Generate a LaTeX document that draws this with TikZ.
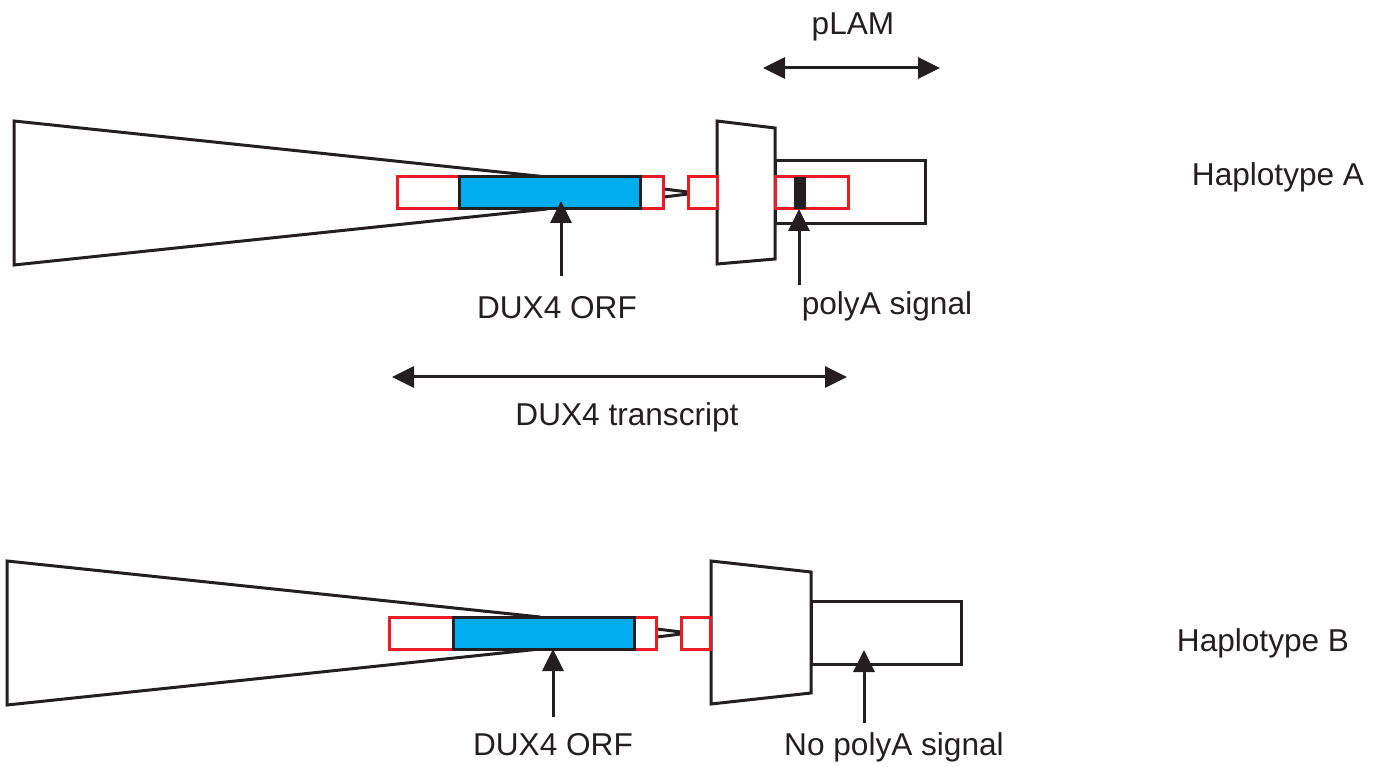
\documentclass[tikz,border=0pt]{standalone}
\usepackage{fontspec}
\setmainfont{Liberation Sans}
\usetikzlibrary{arrows.meta,positioning}
\definecolor{orfblue}{HTML}{00AEEF}
\definecolor{exonred}{HTML}{ED1C24}
\definecolor{inkblack}{HTML}{231F20}
\tikzset{
  outline/.style={draw=inkblack,line width=3pt,line join=miter},
  exonbox/.style={draw=exonred,fill=white,line width=3pt},
  orfbox/.style={draw=inkblack,fill=orfblue,line width=3pt},
  pointer/.style={draw=inkblack,line width=3pt,-{Triangle[width=21pt,length=22pt]}},
  spanarrow/.style={draw=inkblack,line width=3pt,{Triangle[width=21pt,length=22pt]}-{Triangle[width=21pt,length=22pt]}},
  tag/.style={font=\fontsize{31.6}{37}\selectfont,text=inkblack,inner sep=0pt,anchor=base}
}
\begin{document}
\begin{tikzpicture}[x=1pt,y=-1pt]
  \useasboundingbox (0,0) rectangle (1377,767);
  % haplotype A
  \draw[outline] (547,177) -- (14,121) -- (14,265) -- (547,209);
  \draw[outline] (664,189) -- (688,192);
  \draw[outline] (664,197) -- (688,194);
  \draw[outline] (775,161) rectangle (925,224);
  \draw[outline,fill=white] (717,121) -- (775,128) -- (775,259) -- (717,264) -- cycle;
  \draw[exonbox] (397,177) rectangle (663,209);
  \draw[orfbox] (459,177) rectangle (640,209);
  \draw[exonbox] (688,177) rectangle (717,209);
  \draw[exonbox] (775,177) rectangle (848,209);
  \fill[inkblack] (794,177) rectangle (806,209);
  \node[tag] (orfA) at (557,319) {DUX4 ORF};
  \node[tag] (polyA) at (887,315) {polyA signal};
  \node[tag] (plam) at (853,35) {pLAM};
  \node[tag] (transcript) at (627,425) {DUX4 transcript};
  \node[tag] (haploA) at (1278,186) {Haplotype A};
  \coordinate (orfAtail) at (561,276);
  \coordinate (orfAtip) at (561,201);
  \coordinate (polyAtail) at (799,285);
  \coordinate (polyAtip) at (799,209);
  \coordinate (plamL) at (763,68);
  \coordinate (plamR) at (940,68);
  \coordinate (trL) at (392,377);
  \coordinate (trR) at (847,377);
  \draw[pointer] (orfAtail) -- (orfAtip);
  \draw[pointer] (polyAtail) -- (polyAtip);
  \draw[spanarrow] (plamL) -- (plamR);
  \draw[spanarrow] (trL) -- (trR);
  % haplotype B
  \draw[outline] (540,617) -- (7,561) -- (7,705) -- (540,649);
  \draw[outline] (657,629) -- (681,632);
  \draw[outline] (657,637) -- (681,634);
  \draw[outline] (811,601) rectangle (961,664);
  \draw[outline,fill=white] (711,561) -- (811,572) -- (811,693) -- (711,704) -- cycle;
  \draw[exonbox] (389,617) rectangle (656,649);
  \draw[orfbox] (453,617) rectangle (634,649);
  \draw[exonbox] (681,617) rectangle (710,649);
  \node[tag] (orfB) at (553,755) {DUX4 ORF};
  \node[tag] (nopolyA) at (894,755) {No polyA signal};
  \node[tag] (haploB) at (1263,651) {Haplotype B};
  \coordinate (orfBtail) at (553,717);
  \coordinate (orfBtip) at (553,649);
  \coordinate (nopolyAtail) at (864,723);
  \coordinate (nopolyAtip) at (864,650);
  \draw[pointer] (orfBtail) -- (orfBtip);
  \draw[pointer] (nopolyAtail) -- (nopolyAtip);
\end{tikzpicture}
\end{document}
